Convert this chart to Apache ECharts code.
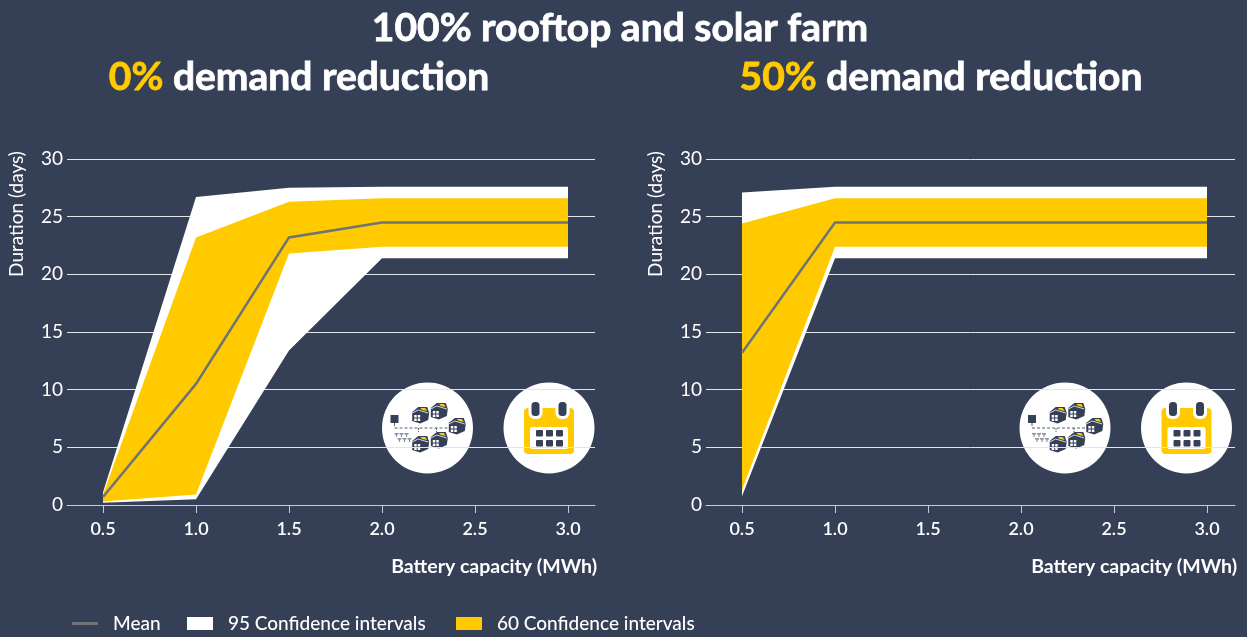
<!DOCTYPE html>
<html>
<head>
<meta charset="utf-8">
<title>100% rooftop and solar farm</title>
<style>
html, body { margin: 0; padding: 0; background: #353f56; }
#chart { width: 1247px; height: 637px; }
</style>
<script src="https://cdn.jsdelivr.net/npm/echarts@6/dist/echarts.min.js"></script>
</head>
<body>
<div id="chart"></div>
<script>
var capacity = [0.5, 1.0, 1.5, 2.0, 2.5, 3.0];
var xTicks = [0.5, 1.0, 1.5, 2.0, 2.5, 3.0];

// 0% demand reduction
var leftMean = [0.7, 10.5, 23.2, 24.5, 24.5, 24.5];
var leftLow95 = [0.2, 0.5, 13.4, 21.4, 21.4, 21.4];
var leftHigh95 = [1.1, 26.7, 27.5, 27.6, 27.6, 27.6];
var leftLow60 = [0.3, 0.9, 21.8, 22.4, 22.4, 22.4];
var leftHigh60 = [0.9, 23.2, 26.3, 26.6, 26.6, 26.6];

// 50% demand reduction
var rightMean = [13.2, 24.5, 24.5, 24.5, 24.5, 24.5];
var rightLow95 = [0.75, 21.4, 21.4, 21.4, 21.4, 21.4];
var rightHigh95 = [27.1, 27.6, 27.6, 27.6, 27.6, 27.6];
var rightLow60 = [1.3, 22.4, 22.4, 22.4, 22.4, 22.4];
var rightHigh60 = [24.4, 26.6, 26.6, 26.6, 26.6, 26.6];

var BG = '#353f56', YELLOW = '#ffcb00', GREY = '#6f7377', FONT = 'Lato, "Noto Sans", sans-serif';
var MEAN = 'Mean', CI95 = '95 Confidence intervals', CI60 = '60 Confidence intervals';

var myChart = echarts.init(document.getElementById('chart'));

function pairs(ys) {
    return ys.map(function (y, i) { return [capacity[i], y]; });
}

// the whole band is one polygon, drawn once from the first row
function band(name, idx, low, high, color, z) {
    return {
        type: 'custom', name: name, xAxisIndex: idx, yAxisIndex: idx, z: z, silent: true,
        itemStyle: { color: color },
        data: capacity.map(function (x, i) { return [x, low[i], high[i]]; }),
        encode: { x: 0, y: [1, 2] },
        renderItem: function (params, api) {
            if (params.dataIndex !== 0) {
                return null;
            }
            var pts = [];
            capacity.forEach(function (x, i) { pts.push(api.coord([x, high[i]])); });
            for (var i = capacity.length - 1; i >= 0; i--) {
                pts.push(api.coord([capacity[i], low[i]]));
            }
            return { type: 'polygon', shape: { points: pts }, style: { fill: color } };
        }
    };
}

function meanLine(idx, ys) {
    return {
        type: 'line', name: MEAN, xAxisIndex: idx, yAxisIndex: idx, data: pairs(ys),
        symbol: 'none', z: 5, itemStyle: { color: GREY },
        lineStyle: { color: GREY, width: 2.5, join: 'miter' }
    };
}

function xAxis(idx, min, max) {
    return {
        type: 'value', gridIndex: idx, min: min, max: max,
        splitLine: { show: false },
        axisLine: { show: true, onZero: false, lineStyle: { color: '#c9ccd2', width: 1 } },
        axisTick: { show: true, customValues: xTicks, length: 8, lineStyle: { color: '#c9ccd2', width: 1 } },
        axisLabel: {
            customValues: xTicks, color: '#fff', fontFamily: FONT, fontSize: 18, fontWeight: 600, margin: 15,
            formatter: function (v) { return v.toFixed(1); }
        }
    };
}

function yAxis(idx) {
    return {
        type: 'value', gridIndex: idx, min: 0, max: 30, interval: 5,
        axisLine: { show: false }, axisTick: { show: false },
        axisLabel: { color: '#fff', fontFamily: FONT, fontSize: 19, margin: 4 },
        splitLine: { lineStyle: { color: '#e4e5e9', width: 1 } }
    };
}

// thin outline in the text colour: the reference lettering is heavier than Lato Bold
function headTitle(text, left, top) {
    return {
        text: text, left: left, top: top, textAlign: 'center', padding: 0,
        textStyle: {
            color: '#fff', fontFamily: FONT, fontSize: 39, fontWeight: 'bold',
            textBorderColor: '#fff', textBorderWidth: 0.8,
            rich: {
                y: {
                    color: YELLOW, fontFamily: FONT, fontSize: 39, fontWeight: 'bold',
                    textBorderColor: YELLOW, textBorderWidth: 0.8
                }
            }
        }
    };
}

function legendItem(name, left, iconH) {
    return {
        left: left, top: 614, padding: 0, itemWidth: 26, itemHeight: iconH,
        data: [{ name: name, icon: 'rect' }],
        selectedMode: false,
        textStyle: { color: '#fff', fontFamily: FONT, fontSize: 19, fontWeight: 500, padding: [0, 0, 0, 10] }
    };
}

function sideText(text, x, y, size, weight, align, rotation) {
    return {
        type: 'text', x: x, y: y, rotation: rotation || 0, z: 20,
        style: {
            text: text, fill: '#fff', font: weight + ' ' + size + 'px ' + FONT,
            align: align, verticalAlign: 'middle'
        }
    };
}

function rect(x, y, w, h, r, fill) {
    return { type: 'rect', shape: { x: x, y: y, width: w, height: h, r: r }, style: { fill: fill } };
}

function house(x, y) {
    return {
        type: 'group', x: x, y: y, children: [
            { type: 'polygon', shape: { points: [[-8, -3], [-2, -8], [7, -8], [9, -2], [8, 5], [0, 8.5], [-8, 6]] }, style: { fill: BG } },
            { type: 'polyline', shape: { points: [[-8, -2], [-2, -5], [8, -2]] }, style: { stroke: '#fff', lineWidth: 0.8, fill: null } },
            { type: 'polygon', shape: { points: [[0, -7], [5, -7], [7, -4], [2, -5]] }, style: { fill: YELLOW } },
            rect(-6, 0, 2.5, 2.5, 0, '#fff'), rect(-2.5, 0, 2.5, 2.5, 0, '#fff'),
            rect(-6, 3.5, 2.5, 2.5, 0, '#fff'), rect(-2.5, 3.5, 2.5, 2.5, 0, '#fff')
        ]
    };
}

function homesIcon(cx, cy) {
    var kids = [{ type: 'circle', shape: { cx: 0, cy: 0, r: 45.5 }, style: { fill: '#fff' } }];
    kids.push(rect(-37, -13, 8, 8, 0, BG));
    kids.push({
        type: 'polyline', shape: { points: [[-33, -5], [-33, 0], [22, 0], [22, -6]] },
        style: { stroke: '#555e70', lineWidth: 1, lineDash: [3, 2], fill: null }
    });
    kids.push({ type: 'polyline', shape: { points: [[-9, 0], [-9, 4]] }, style: { stroke: '#555e70', lineWidth: 1, lineDash: [2, 1], fill: null } });
    kids.push({ type: 'polyline', shape: { points: [[9, 0], [9, 4]] }, style: { stroke: '#555e70', lineWidth: 1, lineDash: [2, 1], fill: null } });
    [[-33, 5], [-28, 5], [-23, 5], [-30, 10], [-25, 10], [-20, 10]].forEach(function (p) {
        kids.push(rect(p[0], p[1], 4, 1.5, 0, '#8b91a0'));
        kids.push(rect(p[0] + 1.4, p[1], 1.2, 4, 0, '#8b91a0'));
    });
    [[-7.3, -13], [11.3, -17], [29.3, -2], [-7.3, 16], [11.3, 12]].forEach(function (p) {
        kids.push(house(p[0], p[1]));
    });
    return { type: 'group', x: cx, y: cy, z: 10, children: kids };
}

function calendarIcon(cx, cy) {
    var kids = [{ type: 'circle', shape: { cx: 0, cy: 0, r: 45.5 }, style: { fill: '#fff' } }];
    kids.push(rect(-25, -20, 50, 46, 4, YELLOW));
    kids.push(rect(-19, -1, 38, 22, 2, '#fff'));
    [-17.5, 9.5].forEach(function (x) {
        kids.push(rect(x - 3, -29, 14, 20, 6, '#fff'));
        kids.push(rect(x, -26, 8, 14, 3.5, BG));
    });
    [-13, -3, 7].forEach(function (x) {
        [2, 12].forEach(function (y) {
            kids.push(rect(x, y, 7, 6.5, 1, BG));
        });
    });
    return { type: 'group', x: cx, y: cy, z: 10, children: kids };
}

var seriesList = [
    band(CI95, 0, leftLow95, leftHigh95, '#fff', 2),
    band(CI60, 0, leftLow60, leftHigh60, YELLOW, 3),
    meanLine(0, leftMean),
    band(CI95, 1, rightLow95, rightHigh95, '#fff', 2),
    band(CI60, 1, rightLow60, rightHigh60, YELLOW, 3),
    meanLine(1, rightMean)
];

myChart.setOption({
    backgroundColor: BG,
    animation: false,
    title: [
        headTitle('100% rooftop and solar farm', 620, 9),
        headTitle('{y|0%} demand reduction', 299, 58),
        headTitle('{y|50%} demand reduction', 941, 58)
    ],
    legend: [
        legendItem(MEAN, 72, 3),
        legendItem(CI95, 187, 13),
        legendItem(CI60, 456, 13)
    ],
    grid: [
        { left: 67, width: 528, top: 159, height: 346 },
        { left: 706, width: 529, top: 159, height: 346 }
    ],
    xAxis: [
        xAxis(0, 0.5 - 36 / 186, 0.5 + 492 / 186),
        xAxis(1, 0.5 - 36 / 186, 0.5 + 493 / 186)
    ],
    yAxis: [yAxis(0), yAxis(1)],
    series: seriesList,
    graphic: [
        sideText('Duration (days)', 17, 214, 19, 'normal', 'center', Math.PI / 2),
        sideText('Duration (days)', 656, 214, 19, 'normal', 'center', Math.PI / 2),
        sideText('Battery capacity (MWh)', 597, 567, 19.5, 'bold', 'right'),
        sideText('Battery capacity (MWh)', 1237, 567, 19.5, 'bold', 'right'),
        homesIcon(427.5, 428), calendarIcon(549, 428),
        homesIcon(1065, 428), calendarIcon(1186.5, 428)
    ]
});
</script>
</body>
</html>
